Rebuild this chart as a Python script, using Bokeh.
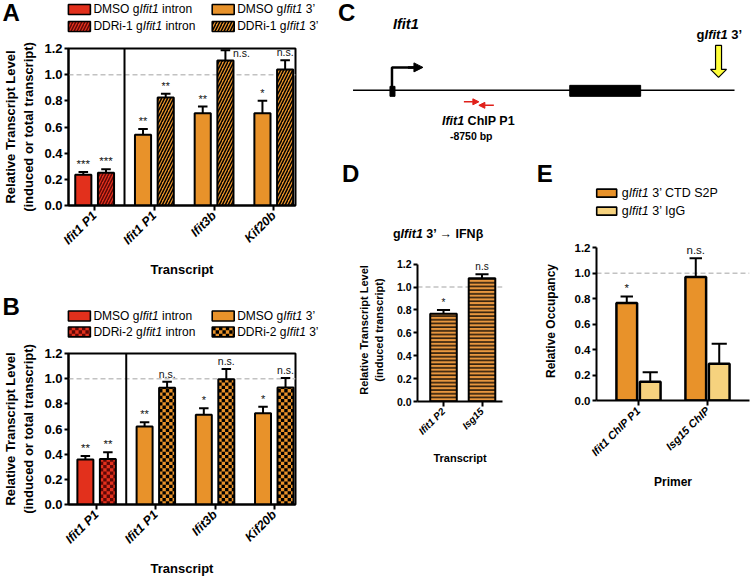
import math
from bokeh.plotting import figure
from bokeh.models import (Range1d, FixedTicker, PrintfTickFormatter, Span, Label,
                          ColumnDataSource, Arrow, NormalHead)
from bokeh.layouts import row, column
from bokeh.core.properties import value
from bokeh.embed import file_html
from bokeh.resources import INLINE

# ---------------------------------------------------------------- data
Y_TICKS = [0.0, 0.2, 0.4, 0.6, 0.8, 1.0, 1.2]

# Panel A
A_ticks = ["Ifit1 P1", "Ifit1 P1", "Ifit3b", "Kif20b"]
A_intron_groups = [0]
A_intron_dmso = [0.235]
A_intron_dmso_err = [0.021]
A_intron_dmso_sig = ["***"]
A_intron_ddri = [0.250]
A_intron_ddri_err = [0.027]
A_intron_ddri_sig = ["***"]
A_3p_groups = [1, 2, 3]
A_3p_dmso = [0.540, 0.705, 0.705]
A_3p_dmso_err = [0.045, 0.051, 0.095]
A_3p_dmso_sig = ["**", "**", "*"]
A_3p_ddri = [0.825, 1.108, 1.040]
A_3p_ddri_err = [0.029, 0.079, 0.070]
A_3p_ddri_sig = ["**", "n.s.", "n.s."]

# Panel B
B_ticks = ["Ifit1 P1", "Ifit1 P1", "Ifit3b", "Kif20b"]
B_intron_groups = [0]
B_intron_dmso = [0.358]
B_intron_dmso_err = [0.027]
B_intron_dmso_sig = ["**"]
B_intron_ddri = [0.362]
B_intron_ddri_err = [0.053]
B_intron_ddri_sig = ["**"]
B_3p_groups = [1, 2, 3]
B_3p_dmso = [0.620, 0.713, 0.725]
B_3p_dmso_err = [0.034, 0.051, 0.052]
B_3p_dmso_sig = ["**", "*", "*"]
B_3p_ddri = [0.928, 0.995, 0.930]
B_3p_ddri_err = [0.047, 0.082, 0.075]
B_3p_ddri_sig = ["n.s.", "n.s.", "n.s."]

# Panel D
D_ticks = ["Ifit1 P2", "Isg15"]
D_vals = [0.768, 1.078]
D_err = [0.032, 0.035]
D_sig = ["*", "n.s"]

# Panel E
E_ticks = ["Ifit1 ChIP P1", "Isg15 ChIP"]
E_ctd = [0.766, 0.970]
E_ctd_err = [0.052, 0.149]
E_ctd_sig = ["*", "n.s."]
E_igg = [0.147, 0.288]
E_igg_err = [0.075, 0.159]

# Panel C schematic (diagram coordinates)
gene_x = [353, 735]
gene_y = [90, 90]
exon_left = [390, 570]
exon_right = [395, 641]
exon_top = [86, 85]
exon_bottom = [96, 96]
tss_x = [392, 392, 414]
tss_y = [88, 67, 67]
guide_x = [716, 722, 722, 727, 719, 711, 716]
guide_y = [45, 45, 69, 69, 77, 69, 69]

# ---------------------------------------------------------------- style / layout
FONT = "Liberation Sans"
W_TOT, H_TOT = 754, 579
SX = W_TOT / 755
SY = H_TOT / 580
LW = 322          # width of the left column (page px)
H_A = 287         # height of panel A block
H_C = 150         # height of panel C block
RED = "#E2301C"
RED_DARK = "#5E0806"
ORANGE = "#E8922A"
ORANGE_D = "#E9973F"
LIGHT = "#F6D27E"
GRAY = "#C2C2C2"
CHECK_PX = 3.4

REG_W = {' ': 278, "'": 191, '’': 222, '(': 333, ')': 333, '-': 333, '.': 278, '*': 389,
         'A': 667, 'B': 667, 'C': 722, 'D': 722, 'E': 667, 'F': 611, 'G': 778, 'H': 722, 'I': 278,
         'J': 500, 'K': 667, 'L': 556, 'M': 833, 'N': 722, 'O': 778, 'P': 667, 'Q': 778, 'R': 722,
         'S': 667, 'T': 611, 'U': 722, 'V': 667, 'W': 944, 'X': 667, 'Y': 667, 'Z': 611,
         'a': 556, 'b': 556, 'c': 500, 'd': 556, 'e': 556, 'f': 278, 'g': 556, 'h': 556, 'i': 222,
         'j': 222, 'k': 500, 'l': 222, 'm': 833, 'n': 556, 'o': 556, 'p': 556, 'q': 556, 'r': 333,
         's': 500, 't': 278, 'u': 556, 'v': 500, 'w': 722, 'x': 500, 'y': 500, 'z': 500,
         '→': 1000, 'β': 575}
BOLD_W = {' ': 278, "'": 238, '’': 278, '(': 333, ')': 333, '-': 333, '.': 278, '*': 389,
          'A': 722, 'B': 722, 'C': 722, 'D': 722, 'E': 667, 'F': 611, 'G': 778, 'H': 722, 'I': 278,
          'J': 556, 'K': 722, 'L': 611, 'M': 833, 'N': 722, 'O': 778, 'P': 667, 'Q': 778, 'R': 722,
          'S': 667, 'T': 611, 'U': 722, 'V': 667, 'W': 944, 'X': 667, 'Y': 667, 'Z': 611,
          'a': 556, 'b': 611, 'c': 556, 'd': 611, 'e': 556, 'f': 333, 'g': 611, 'h': 611, 'i': 278,
          'j': 278, 'k': 556, 'l': 278, 'm': 889, 'n': 611, 'o': 611, 'p': 611, 'q': 611, 'r': 389,
          's': 556, 't': 333, 'u': 611, 'v': 556, 'w': 778, 'x': 556, 'y': 556, 'z': 500,
          '→': 1000, 'β': 575}


def text_w(s, size, bold):
    tab = BOLD_W if bold else REG_W
    return sum(tab.get(c, 556) for c in s) * size / 1000.0


def no_align(p):
    try:
        p.frame_align = False
    except Exception:
        pass


def rich(p, org, xref, yref, parts, size, bold=False, color="black"):
    ox, oy = org
    x = xref * SX - ox
    y = yref * SY - oy
    for t, it in parts:
        core = t.strip(" ")
        lead = len(t) - len(t.lstrip(" ")) if core else len(t)
        x += text_w(" " * lead, size, bold)
        if core:
            style = (("bold " if bold else "") + ("italic" if it else "")).strip() or "normal"
            p.add_layout(Label(x=x, y=y, x_units="canvas", y_units="canvas", text=core,
                               text_font=FONT, text_font_size=f"{size}px", text_font_style=style,
                               text_color=color, text_align="left", text_baseline="middle"))
            x += text_w(core, size, bold)
            trail = len(t) - len(t.rstrip(" "))
            x += text_w(" " * trail, size, bold)


def make_head(org, w, h):
    """A figure without axes whose frame is the whole canvas, in reference-pixel coordinates."""
    ox, oy = org
    p = figure(width=w, height=h, x_range=Range1d(ox / SX, (ox + w) / SX),
               y_range=Range1d((oy + h) / SY, oy / SY), output_backend="svg",
               toolbar_location=None, x_axis_location=None, y_axis_location=None, min_border=0)
    no_align(p)
    p.xgrid.visible = False
    p.ygrid.visible = False
    p.outline_line_color = None
    p.background_fill_color = "white"
    p.border_fill_color = "white"
    return p


def checker(p, lefts, rights, los, his, sqx, sqy, color):
    L, R, B, T = [], [], [], []
    for l, r, lo, hi in zip(lefts, rights, los, his):
        nx = int(math.ceil((r - l) / sqx - 1e-9))
        ny = int(math.ceil((hi - lo) / sqy - 1e-9))
        for i in range(nx):
            for j in range(ny):
                if (i + j) % 2 == 0:
                    L.append(l + i * sqx)
                    R.append(min(l + (i + 1) * sqx, r))
                    B.append(lo + j * sqy)
                    T.append(min(lo + (j + 1) * sqy, hi))
    p.quad(left=L, right=R, bottom=B, top=T, fill_color=color, line_color=None)


def swatch(p, l, t, r, b, fill, hatch=None, hatch_color="black", **kw):
    if hatch == "checker":
        p.quad(left=[l], right=[r], top=[t], bottom=[b], fill_color=fill, line_color=None)
        checker(p, [l], [r], [min(t, b)], [max(t, b)], CHECK_PX / SX, CHECK_PX / SY, hatch_color)
        p.quad(left=[l], right=[r], top=[t], bottom=[b], fill_color=None, line_color="black",
               line_width=1.6)
    elif hatch is not None:
        p.quad(left=[l], right=[r], top=[t], bottom=[b], fill_color=fill, line_color="black",
               line_width=1.6, hatch_pattern=value(hatch), hatch_color=hatch_color, **kw)
    else:
        p.quad(left=[l], right=[r], top=[t], bottom=[b], fill_color=fill, line_color="black",
               line_width=1.6)


def make_fig(org, w, h, frame, xr, ytop=1.2):
    ox, oy = org
    fl, ft, fr, fb = frame
    p = figure(width=w, height=h, x_range=xr, y_range=Range1d(0, ytop),
               output_backend="svg", toolbar_location=None,
               min_border_left=max(0, int(round(fl * SX - ox))),
               min_border_right=max(0, int(round(ox + w - fr * SX))),
               min_border_top=max(0, int(round(ft * SY - oy))),
               min_border_bottom=max(0, int(round(oy + h - fb * SY))))
    no_align(p)
    p.xgrid.visible = False
    p.ygrid.visible = False
    p.background_fill_color = "white"
    p.border_fill_color = "white"
    return p


def style_axes(p, ytick_size, xtick_size, ylabel, ylabel_size, xlabel, xlabel_size,
               ylab_standoff, xlab_standoff, x_labels):
    xax = p.xaxis[0]
    yax = p.yaxis[0]
    for ax in (xax, yax):
        ax.axis_line_width = 2
        ax.axis_line_color = "black"
        ax.major_tick_line_width = 2
        ax.major_tick_line_color = "black"
        ax.major_tick_in = 0
        ax.minor_tick_line_color = None
        ax.axis_label_text_font = FONT
        ax.axis_label_text_font_style = "bold"
        ax.axis_label_text_color = "black"
        ax.major_label_text_font = FONT
        ax.major_label_text_color = "black"
    yax.ticker = FixedTicker(ticks=Y_TICKS)
    yax.formatter = PrintfTickFormatter(format="%.1f")
    yax.bounds = (0, 1.2)
    yax.major_label_text_font_style = "bold"
    yax.major_label_text_font_size = ytick_size
    yax.major_tick_out = 4
    yax.major_label_standoff = 2
    yax.axis_label = ylabel
    yax.axis_label_text_font_size = ylabel_size
    yax.axis_label_standoff = ylab_standoff
    xax.ticker = FixedTicker(ticks=list(range(len(x_labels))))
    xax.major_label_overrides = {i: lab for i, lab in enumerate(x_labels)}
    xax.major_label_orientation = math.pi / 4
    xax.major_label_text_font_style = "bold italic"
    xax.major_label_text_font_size = xtick_size
    xax.major_tick_out = 5
    xax.major_label_standoff = 3
    xax.axis_label = xlabel
    xax.axis_label_text_font_size = xlabel_size
    xax.axis_label_standoff = xlab_standoff


def bars(p, groups, offset, tops, errs, width, cap, fill, lw=2, hatch=None, hatch_color="black",
         hatch_scale=6, hatch_weight=1.5, px_x=1.0, px_y=1.0):
    xs = [g + offset for g in groups]
    src = ColumnDataSource(dict(x=xs, top=tops, etop=[t + e for t, e in zip(tops, errs)],
                                cl=[x - cap for x in xs], cr=[x + cap for x in xs]))
    p.segment(x0="x", y0="top", x1="x", y1="etop", source=src, line_width=2, line_color="black")
    p.segment(x0="cl", y0="etop", x1="cr", y1="etop", source=src, line_width=2, line_color="black")
    if hatch == "checker":
        p.vbar(x="x", top="top", bottom=0, width=width, source=src, fill_color=fill, line_color=None)
        checker(p, [x - width / 2 for x in xs], [x + width / 2 for x in xs], [0] * len(xs), tops,
                CHECK_PX / px_x, CHECK_PX / px_y, hatch_color)
        p.vbar(x="x", top="top", bottom=0, width=width, source=src, fill_color=None,
               line_color="black", line_width=lw)
    else:
        kw = dict(fill_color=fill, line_color="black", line_width=lw)
        if hatch is not None:
            kw.update(hatch_pattern=value(hatch), hatch_color=hatch_color,
                      hatch_scale=hatch_scale, hatch_weight=hatch_weight)
        p.vbar(x="x", top="top", bottom=0, width=width, source=src, **kw)
    return xs


def sig(p, xs, tops, errs, texts, size, side_dx=16):
    for x, t, e, s in zip(xs, tops, errs, texts):
        y = t + e
        side = y > 1.15
        p.add_layout(Label(x=x, y=y, text=s, x_offset=side_dx if side else 0,
                           y_offset=-9 if side else 2, text_font=FONT,
                           text_font_size=f"{size}px", text_color="#111111",
                           text_align="center", text_baseline="bottom"))


def dashed_one(p):
    p.add_layout(Span(location=1.0, dimension="width", line_color=GRAY, line_width=1.5,
                      line_dash="5 3", level="underlay"))


def split(org, frame_top_ref, pad):
    """Height of the header strip above a plot whose frame top is at frame_top_ref."""
    return int(round(frame_top_ref * SY)) - pad - org[1]


# ---------------------------------------------------------------- Panel A / B
def panel_ab(org, total_h, frame, center0, spacing, ticks, letter, letter_y, leg_y, drug,
             idmso, idmso_e, idmso_s, iddri, iddri_e, iddri_s, igroups,
             tdmso, tdmso_e, tdmso_s, tddri, tddri_e, tddri_s, tgroups, hatch_kind):
    fl, ft, fr, fb = frame
    hh = split(org, ft, 10)
    head = make_head(org, LW, hh)
    porg = (org[0], org[1] + hh)
    xr = Range1d((fl - center0) / spacing, (fr - center0) / spacing)
    p = make_fig(porg, LW, total_h - hh, frame, xr)
    p.outline_line_color = "black"
    p.outline_line_width = 2
    p.outline_line_alpha = 1.0
    dashed_one(p)
    p.add_layout(Span(location=0.5, dimension="height", line_color="black", line_width=2,
                      level="underlay"))
    px_x = SX * spacing
    px_y = (fb - ft) * SY / 1.2
    w, off, cap = 0.27, 0.19, 0.08
    if hatch_kind == "checker":
        hk = dict(hatch="checker")
    else:
        hk = dict(hatch="right_diagonal_line", hatch_scale=6, hatch_weight=1.5)
    x1 = bars(p, igroups, -off, idmso, idmso_e, w, cap, RED)
    x2 = bars(p, igroups, off, iddri, iddri_e, w, cap, RED, hatch_color=RED_DARK,
              px_x=px_x, px_y=px_y, **hk)
    x3 = bars(p, tgroups, -off, tdmso, tdmso_e, w, cap, ORANGE)
    x4 = bars(p, tgroups, off, tddri, tddri_e, w, cap, ORANGE, hatch_color="black",
              px_x=px_x, px_y=px_y, **hk)
    sig(p, x1, idmso, idmso_e, idmso_s, 11.5)
    sig(p, x2, iddri, iddri_e, iddri_s, 11.5)
    sig(p, x3, tdmso, tdmso_e, tdmso_s, 11)
    sig(p, x4, tddri, tddri_e, tddri_s, 10.5)
    style_axes(p, "13px", "12.5px", "Relative Transcript Level\n(induced or total transcript)", "13px",
               "Transcript", "13px", 5, 7, ticks)
    # header: panel letter and legend
    rich(head, org, 2, letter_y, [(letter, False)], 24, bold=True)
    y1, y2 = leg_y
    hs = {k: v for k, v in hk.items() if k != "hatch"}
    swatch(head, 68, y1 - 5, 90, y1 + 5, RED)
    swatch(head, 68, y2 - 5, 90, y2 + 5, RED, hatch=hk["hatch"], hatch_color=RED_DARK, **hs)
    swatch(head, 212, y1 - 5, 234, y1 + 5, ORANGE)
    swatch(head, 212, y2 - 5, 234, y2 + 5, ORANGE, hatch=hk["hatch"], hatch_color="black", **hs)
    rich(head, org, 93, y1, [("DMSO g", False), ("Ifit1", True), (" intron", False)], 12)
    rich(head, org, 93, y2, [(drug + " g", False), ("Ifit1", True), (" intron", False)], 12)
    rich(head, org, 237, y1, [("DMSO g", False), ("Ifit1", True), (" 3’", False)], 12)
    rich(head, org, 237, y2, [(drug + " g", False), ("Ifit1", True), (" 3’", False)], 12)
    return column(head, p)


colA = panel_ab((0, 0), H_A, (65, 48, 295, 205), 91.5, 60.5, A_ticks, "A", 12, (9, 26), "DDRi-1",
                A_intron_dmso, A_intron_dmso_err, A_intron_dmso_sig,
                A_intron_ddri, A_intron_ddri_err, A_intron_ddri_sig, A_intron_groups,
                A_3p_dmso, A_3p_dmso_err, A_3p_dmso_sig,
                A_3p_ddri, A_3p_ddri_err, A_3p_ddri_sig, A_3p_groups, "diag")

colB = panel_ab((0, H_A), H_TOT - H_A, (65, 354, 295, 510), 93.5, 60.0, B_ticks, "B", 307,
                (316, 332), "DDRi-2",
                B_intron_dmso, B_intron_dmso_err, B_intron_dmso_sig,
                B_intron_ddri, B_intron_ddri_err, B_intron_ddri_sig, B_intron_groups,
                B_3p_dmso, B_3p_dmso_err, B_3p_dmso_sig,
                B_3p_ddri, B_3p_ddri_err, B_3p_ddri_sig, B_3p_groups, "checker")

# ---------------------------------------------------------------- Panel C
orgC = (LW, 0)
pC = make_head(orgC, W_TOT - LW, H_C)
pC.line(gene_x, gene_y, line_color="black", line_width=1.5)
pC.quad(left=exon_left, right=exon_right, top=exon_top, bottom=exon_bottom,
        fill_color="black", line_color="black")
pC.line(tss_x, tss_y, line_color="black", line_width=2.5)
pC.add_layout(Arrow(end=NormalHead(size=9, fill_color="black", line_color="black"),
                    x_start=408, y_start=67, x_end=423, y_end=67, line_width=2.5, line_color="black"))
pC.add_layout(Arrow(end=NormalHead(size=6, fill_color="#E0201A", line_color="#E0201A"),
                    x_start=464, y_start=101.5, x_end=479, y_end=101.5, line_width=1.5,
                    line_color="#E0201A"))
pC.add_layout(Arrow(end=NormalHead(size=6, fill_color="#E0201A", line_color="#E0201A"),
                    x_start=494, y_start=105, x_end=479, y_end=105, line_width=1.5,
                    line_color="#E0201A"))
pC.patch(guide_x, guide_y, fill_color="#FFFF3A", line_color="black", line_width=1.2)
rich(pC, orgC, 338, 12, [("C", False)], 24, bold=True)
rich(pC, orgC, 393, 24, [("Ifit1", True)], 14.5, bold=True)
rich(pC, orgC, 697, 34, [("g", False), ("Ifit1", True), (" 3’", False)], 13, bold=True)
rich(pC, orgC, 442, 121, [("Ifit1", True), (" ChIP P1", False)], 12.5, bold=True)
rich(pC, orgC, 450, 136, [("-8750 bp", False)], 10.5, bold=True)

# ---------------------------------------------------------------- Panel D
YTOP = 1.25
orgD = (LW, H_C)
orgE = (int(round(505 * SX)), H_C)
H_DE = H_TOT - H_C
D_c0, D_sp = 444.0, 38.5
D_y0, D_unit = 402.0, 115.0
D_frame = (418, D_y0 - YTOP * D_unit, 503, D_y0)
wD = orgE[0] - orgD[0]
hD = split(orgD, D_frame[1], 4)
headD = make_head(orgD, wD, hD)
porgD = (orgD[0], orgD[1] + hD)
pD = make_fig(porgD, wD, H_DE - hD, D_frame,
              Range1d((418 - D_c0) / D_sp, (503 - D_c0) / D_sp), ytop=YTOP)
pD.outline_line_color = None
dashed_one(pD)
xd = bars(pD, [0, 1], 0.0, D_vals, D_err, 0.69, 0.17, ORANGE_D, lw=2,
          hatch="horizontal_line", hatch_color="black", hatch_scale=3.7, hatch_weight=1.3)
sig(pD, xd, D_vals, D_err, D_sig, 10)
style_axes(pD, "10.5px", "10px", "Relative Transcript Level\n(induced transcript)", "11px",
           "Transcript", "11px", 9, 9, D_ticks)
rich(headD, orgD, 342, 173, [("D", False)], 24, bold=True)
rich(headD, orgD, 393, 234, [("g", False), ("Ifit1", True), (" 3’ → IFNβ", False)], 12.5, bold=True)

# ---------------------------------------------------------------- Panel E
E_c0, E_sp = 639.0, 69.0
E_y0, E_unit = 401.0, 127.5
E_frame = (597, E_y0 - YTOP * E_unit, 750, E_y0)
wE = W_TOT - orgE[0]
hE = split(orgE, E_frame[1], 4)
headE = make_head(orgE, wE, hE)
porgE = (orgE[0], orgE[1] + hE)
pE = make_fig(porgE, wE, H_DE - hE, E_frame,
              Range1d((597 - E_c0) / E_sp, (750 - E_c0) / E_sp), ytop=YTOP)
pE.outline_line_color = None
dashed_one(pE)
xe1 = bars(pE, [0, 1], -0.17, E_ctd, E_ctd_err, 0.3, 0.09, ORANGE, lw=2.5)
xe2 = bars(pE, [0, 1], 0.17, E_igg, E_igg_err, 0.3, 0.11, LIGHT, lw=2.5)
sig(pE, xe1, E_ctd, E_ctd_err, E_ctd_sig, 11.5)
style_axes(pE, "11.5px", "11px", "Relative Occupancy", "12px", "Primer", "12px", 14, 10, E_ticks)
rich(headE, orgE, 537, 173, [("E", False)], 24, bold=True)
swatch(headE, 597, 189, 617, 197, ORANGE)
swatch(headE, 597, 207, 617, 215, LIGHT)
rich(headE, orgE, 622, 193, [("g", False), ("Ifit1", True), (" 3’ CTD S2P", False)], 12.5)
rich(headE, orgE, 622, 211, [("g", False), ("Ifit1", True), (" 3’ IgG", False)], 12.5)

layout = row(column(colA, colB),
             column(pC, row(column(headD, pD), column(headE, pE))))
open("out.html", "w").write(file_html(layout, INLINE))
